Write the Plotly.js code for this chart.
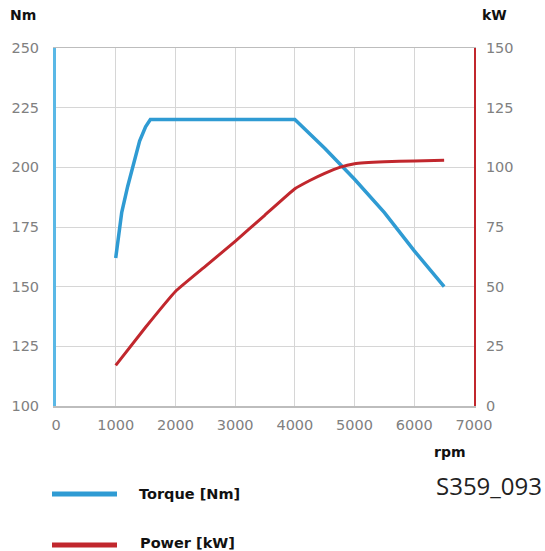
<!DOCTYPE html>
<html>
<head>
<meta charset="utf-8">
<script src="https://cdn.plot.ly/plotly-3.0.1.min.js"></script>
<style>
  html, body { margin: 0; padding: 0; background: #fff; }
  #chart { width: 545px; height: 551px; }
</style>
</head>
<body>
<div id="chart"></div>
<script>
// ---- data ----
const torqueRpm = [1000, 1050, 1100, 1200, 1300, 1400, 1500, 1580, 4000, 4500, 5000, 5500, 6000, 6500];
const torqueNm  = [162, 172, 181, 192, 202, 211, 217, 220, 220, 208, 195, 181, 165, 150];

const powerRpm = [1000, 1500, 2000, 2500, 3000, 3500, 4000, 4250, 4500, 4750, 5000, 5500, 6000, 6500];
const powerKw  = [17, 33, 48, 58.5, 69, 80, 91, 94.5, 97.5, 100, 101.5, 102.3, 102.7, 103];

const xTicks = [0, 1000, 2000, 3000, 4000, 5000, 6000, 7000];
const yLeftTicks = [100, 125, 150, 175, 200, 225, 250];
const yRightTicks = [0, 25, 50, 75, 100, 125, 150];

const seriesNames = ['Torque [Nm]', 'Power [kW]'];
const axisLabels = { left: 'Nm', right: 'kW', x: 'rpm' };
const figureCode = 'S359_093';

// ---- styles ----
const blue = '#2f9bd3';
const red = '#c1272d';
const tickFont = { family: 'DejaVu Sans', size: 14.5, color: '#808080' };
const boldFont = { family: 'DejaVu Sans', size: 14, color: '#111', weight: 'bold' };
const legendFont = { family: 'DejaVu Sans', size: 14.5, color: '#111', weight: 'bold' };

// plot area in pixels (for placing paper-referenced annotations)
const W = 545, H = 551;
const M = { l: 56, r: 71, t: 48, b: 145 };
const pw = W - M.l - M.r, ph = H - M.t - M.b;
const px = x => (x - M.l) / pw;
const py = y => (H - M.b - y) / ph;

const traces = [
  {
    x: torqueRpm, y: torqueNm, name: seriesNames[0], type: 'scatter', mode: 'lines',
    line: { color: blue, width: 3.5 }, yaxis: 'y'
  },
  {
    x: powerRpm, y: powerKw, name: seriesNames[1], type: 'scatter', mode: 'lines',
    line: { color: red, width: 3, shape: 'spline', smoothing: 0.3 }, yaxis: 'y2'
  }
];

const layout = {
  width: W, height: H,
  margin: M,
  paper_bgcolor: '#fff', plot_bgcolor: '#fff',
  showlegend: false,
  xaxis: {
    range: [0, 7000], tickvals: xTicks, ticktext: xTicks.map(String),
    showgrid: true, gridcolor: '#d6d6d6', gridwidth: 1,
    zeroline: false, showline: true, linecolor: '#bdbdbd', linewidth: 1.5, mirror: true,
    ticks: '', ticklabelstandoff: 5, tickfont: tickFont, fixedrange: true
  },
  yaxis: {
    range: [100, 250], tickvals: yLeftTicks, ticktext: yLeftTicks.map(String),
    showgrid: true, gridcolor: '#d6d6d6', gridwidth: 1,
    zeroline: false, showline: true, linecolor: '#5ab8e6', linewidth: 3,
    ticks: '', ticklabelstandoff: 11, tickfont: tickFont, fixedrange: true
  },
  yaxis2: {
    range: [0, 150], tickvals: yRightTicks, ticktext: yRightTicks.map(String),
    overlaying: 'y', side: 'right', showgrid: false,
    zeroline: false, showline: true, linecolor: red, linewidth: 2,
    ticks: '', ticklabelstandoff: 7, tickfont: tickFont, fixedrange: true
  },
  shapes: [
    { type: 'line', xref: 'paper', yref: 'paper', x0: px(52), x1: px(117), y0: py(494), y1: py(494),
      line: { color: blue, width: 5 } },
    { type: 'line', xref: 'paper', yref: 'paper', x0: px(52), x1: px(117), y0: py(545), y1: py(545),
      line: { color: red, width: 5 } }
  ],
  annotations: [
    { text: axisLabels.left, xref: 'paper', yref: 'paper', x: px(8), y: py(15), xanchor: 'left', yanchor: 'middle', showarrow: false, font: boldFont },
    { text: axisLabels.right, xref: 'paper', yref: 'paper', x: px(480), y: py(15), xanchor: 'left', yanchor: 'middle', showarrow: false, font: boldFont },
    { text: axisLabels.x, xref: 'paper', yref: 'paper', x: px(432), y: py(452), xanchor: 'left', yanchor: 'middle', showarrow: false, font: boldFont },
    { text: figureCode, xref: 'paper', yref: 'paper', x: px(544), y: py(485), xanchor: 'right', yanchor: 'middle', showarrow: false,
      font: { family: 'Open Sans', size: 24, color: '#222' } },
    { text: seriesNames[0], xref: 'paper', yref: 'paper', x: px(137), y: py(494), xanchor: 'left', yanchor: 'middle', showarrow: false, font: legendFont },
    { text: seriesNames[1], xref: 'paper', yref: 'paper', x: px(138), y: py(543), xanchor: 'left', yanchor: 'middle', showarrow: false, font: legendFont }
  ]
};

Plotly.newPlot('chart', traces, layout, { displayModeBar: false, staticPlot: true });
</script>
</body>
</html>
